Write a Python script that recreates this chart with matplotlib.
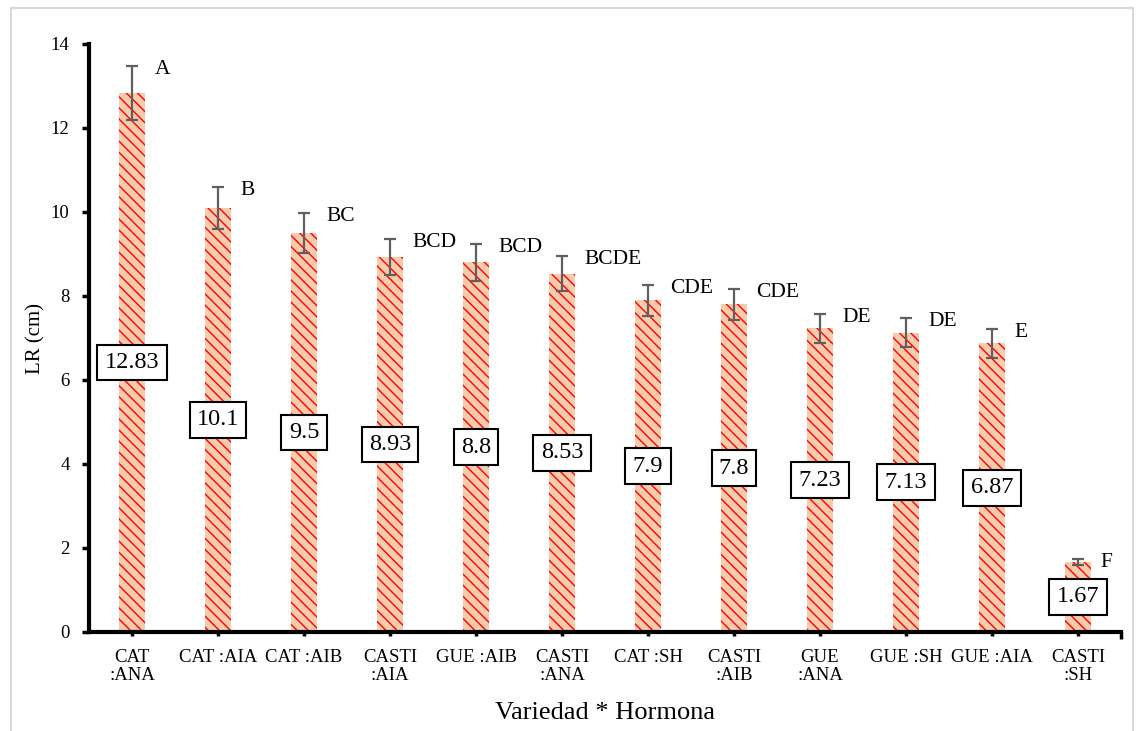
import matplotlib
matplotlib.use("Agg")
import matplotlib.pyplot as plt
from matplotlib.patches import Rectangle

plt.rcParams['font.family'] = ['Liberation Serif', 'DejaVu Serif']
plt.rcParams['hatch.color'] = '#FF0000'
plt.rcParams['hatch.linewidth'] = 1.0

categories = ["CAT\n:ANA", "CAT :AIA", "CAT :AIB", "CASTI\n:AIA", "GUE :AIB",
              "CASTI\n:ANA", "CAT :SH", "CASTI\n:AIB", "GUE\n:ANA", "GUE :SH",
              "GUE :AIA", "CASTI\n:SH"]
values = [12.83, 10.1, 9.5, 8.93, 8.8, 8.53, 7.9, 7.8, 7.23, 7.13, 6.87, 1.67]
errors = [0.65, 0.5, 0.48, 0.43, 0.44, 0.42, 0.37, 0.37, 0.34, 0.35, 0.34, 0.07]
letters = ["A", "B", "BC", "BCD", "BCD", "BCDE", "CDE", "CDE", "DE", "DE", "E", "F"]
value_labels = ["12.83", "10.1", "9.5", "8.93", "8.8", "8.53", "7.9", "7.8",
                "7.23", "7.13", "6.87", "1.67"]
yticks = [0, 2, 4, 6, 8, 10, 12, 14]

fig = plt.figure(figsize=(11.4, 7.31), dpi=100)
ax = fig.add_axes([89/1140, 1-632/731, (1121-89)/1140, (632-44)/731])

# figure border
fig.patches.append(Rectangle((11/1140, -0.05), (1133-11)/1140, 1-8/731+0.05,
                             transform=fig.transFigure, fill=False,
                             edgecolor='#D9D9D9', linewidth=1.5, zorder=0))

x = list(range(len(categories)))
ax.bar(x, values, width=0.31, color='#F8CBAD', edgecolor='#FF0000',
       linewidth=0, hatch='\\\\\\', zorder=2)
ax.errorbar(x, values, yerr=errors, fmt='none', ecolor='#5F5F5F',
            elinewidth=1.6, capsize=4, capthick=1.6, zorder=3)

for xi, v, e, lt, vl in zip(x, values, errors, letters, value_labels):
    ax.text(xi + 0.26, v + e - 0.08, lt, ha='left', va='center', fontsize=15.5, zorder=4)
    ax.text(xi, v / 2, vl, ha='center', va='center', fontsize=17.5, zorder=4,
            bbox=dict(boxstyle='square,pad=0.3', facecolor='white',
                      edgecolor='black', linewidth=1.5))

ax.set_xlim(-0.5, 11.5)
ax.set_ylim(0, 14)
ax.set_yticks(yticks)
ax.set_xticks(x)
ax.set_xticklabels(categories, fontsize=13.5, linespacing=1.1)
ax.tick_params(axis='y', labelsize=13.5, length=5, width=2.5, pad=9)
ax.tick_params(axis='x', length=3, width=2.5, pad=9)
ax.set_xticks([11.5], minor=True)
ax.tick_params(axis='x', which='minor', length=5, width=2.5)

for s in ['top', 'right']:
    ax.spines[s].set_visible(False)
for s in ['left', 'bottom']:
    ax.spines[s].set_linewidth(3)

ax.set_ylabel("LR (cm)", fontsize=15, labelpad=4)
ax.set_xlabel("Variedad * Hormona", fontsize=19, labelpad=13)

fig.savefig("out.png", dpi=100)
